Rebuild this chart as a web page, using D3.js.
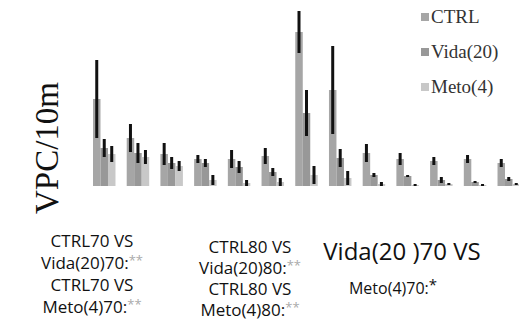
<!DOCTYPE html>
<html>
<head>
<meta charset="utf-8">
<script src="https://cdn.jsdelivr.net/npm/d3@7"></script>
<style>
  body { margin: 0; background: #fff; }
  svg { display: block; }
</style>
</head>
<body>
<svg id="chart" width="519" height="325"></svg>
<script>
// values (arbitrary VPC/10m units)
var groups = ['1', '2', '3', '4', '5', '6', '7', '8', '9', '10', '11', '12', '13'];
var seriesNames = ['CTRL', 'Vida(20)', 'Meto(4)'];
var ctrlValues = [87, 48, 32, 27, 27, 30, 154, 96, 33, 27, 25, 27, 23];
var ctrlErrors = [39, 14, 11, 4, 9, 8, 21, 44, 9, 6, 4, 4, 4];
var vidaValues = [38, 33, 23, 23, 19, 14, 73, 28, 11, 10, 6, 4, 7];
var vidaErrors = [9, 10, 6, 4, 6, 4, 23, 9, 2, 1, 3, 1, 2];
var metoValues = [32, 29, 20, 6, 3, 4, 11, 8, 2, 1, 2, 1, 2];
var metoErrors = [8, 7, 5, 5, 3, 4, 9, 7, 2, 1, 1, 1, 1];

var colors = {'CTRL': '#a6a6a6', 'Vida(20)': '#989898', 'Meto(4)': '#c8c8c8'};

var svg = d3.select('#chart');

var xScale = d3.scaleBand().domain(groups).range([93, 520]).paddingInner(0.333).paddingOuter(0);
var xInner = d3.scaleBand().domain(seriesNames).range([0, xScale.bandwidth()]);
var yScale = d3.scaleLinear().domain([0, 160]).range([186, 26]);

var rows = [];
groups.forEach(function(g, i) {
    rows.push({group: g, series: 'CTRL', value: ctrlValues[i], err: ctrlErrors[i]});
    rows.push({group: g, series: 'Vida(20)', value: vidaValues[i], err: vidaErrors[i]});
    rows.push({group: g, series: 'Meto(4)', value: metoValues[i], err: metoErrors[i]});
});

var chartG = svg.append('g');

chartG.selectAll('.bar').data(rows)
    .enter()
    .append('rect')
    .attr('class', 'bar')
    .attr('x', d => xScale(d.group) + xInner(d.series))
    .attr('y', d => yScale(d.value))
    .attr('width', xInner.bandwidth())
    .attr('height', d => yScale(0) - yScale(d.value))
    .style('fill', d => colors[d.series]);

// error bars
chartG.selectAll('.err').data(rows)
    .enter()
    .append('line')
    .attr('class', 'err')
    .attr('x1', d => xScale(d.group) + xInner(d.series) + xInner.bandwidth() / 2)
    .attr('x2', d => xScale(d.group) + xInner(d.series) + xInner.bandwidth() / 2)
    .attr('y1', d => yScale(d.value + d.err))
    .attr('y2', d => yScale(Math.max(0, d.value - d.err)))
    .style('stroke', '#111')
    .style('stroke-width', 3);

// y axis title
svg.append('text')
    .attr('transform', 'translate(58,148) rotate(-90)')
    .attr('text-anchor', 'middle')
    .style('font-family', '"Liberation Serif", "DejaVu Serif", serif')
    .style('font-size', '33px')
    .style('fill', '#111')
    .text('VPC/10m');

// legend
var legend = svg.selectAll('.legend-items').data(seriesNames)
    .enter()
    .append('g')
    .attr('class', 'legend-items')
    .attr('transform', (d, i) => 'translate(421,' + (17 + i * 35) + ')');

legend.append('rect')
    .attr('x', 0)
    .attr('y', -4)
    .attr('width', 8)
    .attr('height', 8)
    .style('fill', d => colors[d]);

legend.append('text')
    .attr('x', 10)
    .attr('y', 6)
    .style('font-family', '"Liberation Serif", "DejaVu Serif", serif')
    .style('font-size', '19px')
    .style('fill', '#333')
    .text(d => d);

// significance notes under the chart
var notes = [
    {x: 92, y: 247, size: 17, text: 'CTRL70 VS', star: ''},
    {x: 92, y: 269, size: 17, text: 'Vida(20)70:', star: '**'},
    {x: 92, y: 291, size: 17, text: 'CTRL70 VS', star: ''},
    {x: 92, y: 313, size: 17, text: 'Meto(4)70:', star: '**'},
    {x: 250, y: 253, size: 17, text: 'CTRL80 VS', star: ''},
    {x: 250, y: 274, size: 17, text: 'Vida(20)80:', star: '**'},
    {x: 250, y: 295, size: 17, text: 'CTRL80 VS', star: ''},
    {x: 250, y: 316, size: 17, text: 'Meto(4)80:', star: '**'},
    {x: 402, y: 260, size: 24, text: 'Vida(20 )70 VS', star: ''},
    {x: 393, y: 294, size: 16, text: 'Meto(4)70:', star: '*', dark: true}
];

var noteText = svg.selectAll('.note').data(notes)
    .enter()
    .append('text')
    .attr('class', 'note')
    .attr('x', d => d.x)
    .attr('y', d => d.y)
    .attr('text-anchor', 'middle')
    .style('font-family', '"Open Sans", "Noto Sans", sans-serif')
    .style('font-size', d => d.size + 'px')
    .style('fill', '#111');

noteText.append('tspan').text(d => d.text);
noteText.append('tspan')
    .attr('dy', -4)
    .style('font-size', d => d.dark ? '15px' : '13px')
    .style('fill', d => d.dark ? '#111' : '#aaa')
    .text(d => d.star);
</script>
</body>
</html>
